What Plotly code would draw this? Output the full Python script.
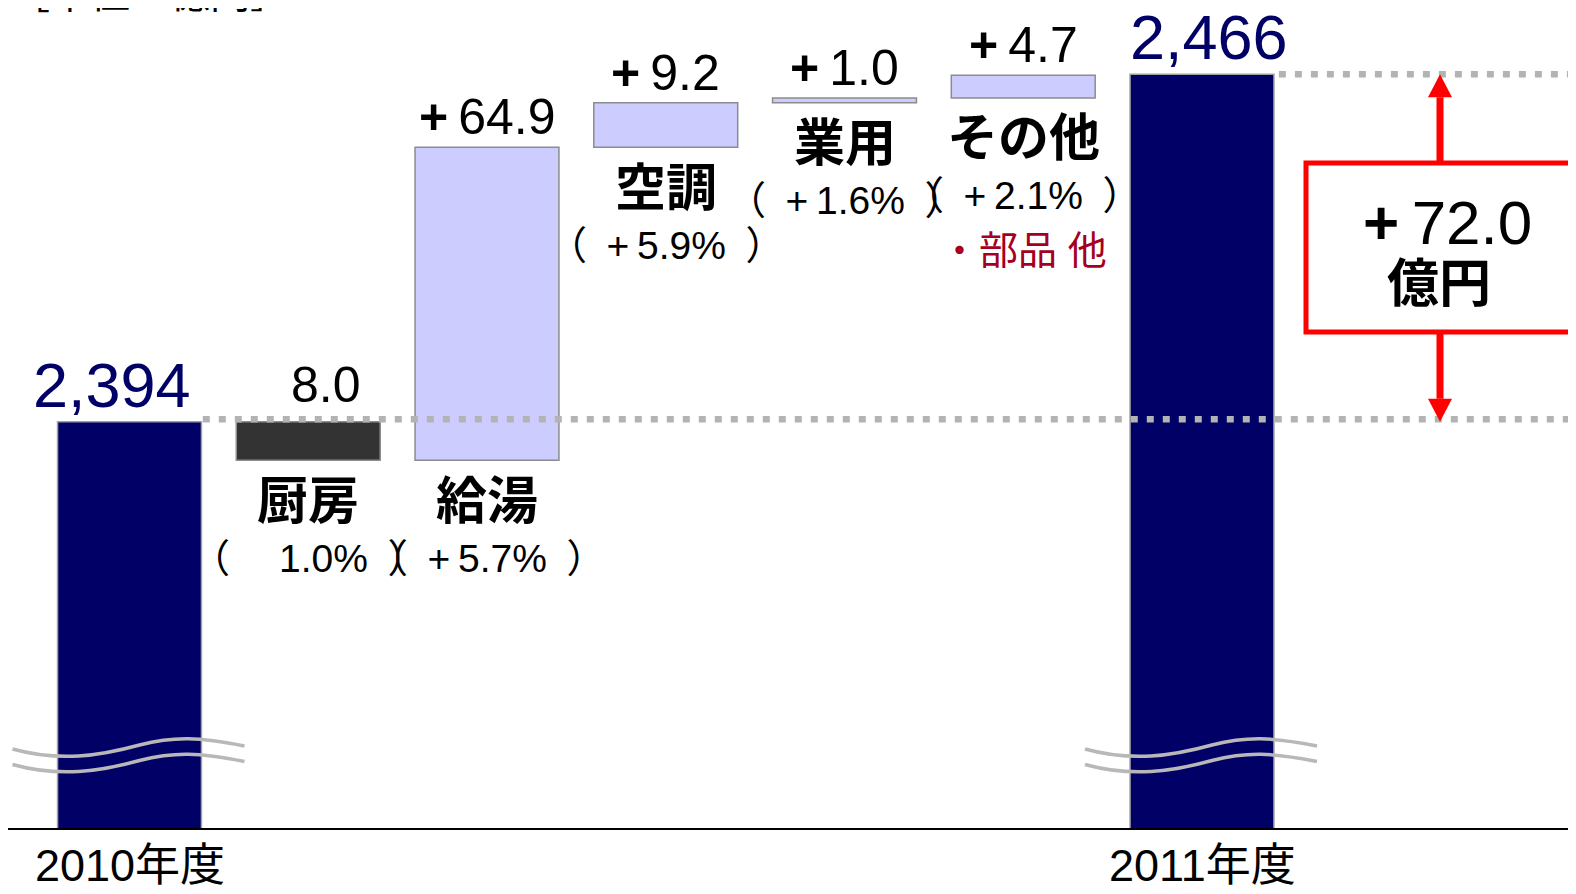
import plotly.graph_objects as go

# ---------------- data ----------------
categories = ["2010年度", "厨房", "給湯", "空調", "業用", "その他", "2011年度"]
measures = ["absolute", "relative", "relative", "relative", "relative", "relative", "absolute"]
values = [2394, -8.0, 64.9, 9.2, 1.0, 4.7, 2466]
value_labels = ["2,394", "8.0", "<b>+</b>\u200964.9", "<b>+</b>\u20099.2",
                "<b>+</b>\u20091.0", "<b>+</b>\u20094.7", "2,466"]
pct_labels = [None,
              "（\u2002\u2007\u20091.0%\u2002）",
              "（\u2002+\u20095.7%\u2002）",
              "（\u2002+\u20095.9%\u2002）",
              "（\u2002+\u20091.6%\u2002）",
              "（\u2002+\u20092.1%\u2002）",
              None]
note_label = "・部品 他"
change_value_label = "<b>+</b>\u200972.0"
change_unit_label = "<b>億円</b>"
unit_label = "［単位：億円］"

# ---------------- styling / layout constants ----------------
OFF = 8                          # page offset of the figure (body margin)
W, H = 1576 - OFF, 894 - OFF
PH = 828 - OFF                   # plot height (axis line at page y 828)
MB = H - PH
PXX = 178.75                     # px per category step
PXY = 347.4 / 72.0               # px per unit of value
XMIN = -(129.5 - OFF) / PXX
XMAX = XMIN + W / PXX
YMAX = values[-1] + (74.3 - OFF) / PXY
YMIN = YMAX - PH / PXY
FONT = "Liberation Sans, Arial, Noto Sans CJK JP, sans-serif"
NAVY = "#000066"
LAV = "#CCCCFF"
DARK = "#333333"
RED = "#FF0000"


def px_x(px):
    """page pixel -> x data"""
    return XMIN + (px - OFF) / PXX


def px_y(py):
    """page pixel -> y data"""
    return YMAX - (py - OFF) / PXY


xs = list(range(len(categories)))

# bar top/bottom derived from the data
tops, bottoms = [], []
cum = 0.0
for m, v in zip(measures, values):
    if m == "absolute":
        cum = v
        tops.append(v)
        bottoms.append(YMIN)
    else:
        start = cum
        cum += v
        tops.append(max(start, cum))
        bottoms.append(min(start, cum))

fig = go.Figure()
fig.add_trace(go.Waterfall(
    x=xs, y=values, measure=measures, width=0.805,
    connector=dict(visible=False),
    increasing=dict(marker=dict(color=LAV, line=dict(color="#8C8C8C", width=1.5))),
    decreasing=dict(marker=dict(color=DARK, line=dict(color="#8C8C8C", width=1.5))),
    totals=dict(marker=dict(color=NAVY, line=dict(color="#A0A0A0", width=1.5))),
    textposition="none", hoverinfo="skip", showlegend=False,
))

ann = []
for i, cat in enumerate(categories):
    if measures[i] == "absolute":
        ann.append(dict(x=xs[i], y=tops[i], text=value_labels[i], showarrow=False,
                        yanchor="middle", yshift=37, xshift=(-18 if i == 0 else 7),
                        font=dict(size=63, color=NAVY, family=FONT)))
        ann.append(dict(x=xs[i], y=0, yref="paper", yanchor="middle", text=cat, showarrow=False,
                        yshift=-37, font=dict(size=45, color="black", family=FONT)))
    else:
        ann.append(dict(x=xs[i], y=tops[i], text=value_labels[i], showarrow=False,
                        yanchor="middle",
                        yshift=(37 if values[i] < 0 else 30), xshift=(18 if values[i] < 0 else 0),
                        font=dict(size=50, color="black", family=FONT)))
        ann.append(dict(x=xs[i], y=bottoms[i], text="<b>" + cat + "</b>", showarrow=False,
                        yanchor="middle", yshift=-41,
                        font=dict(size=51, color="black", family=FONT)))
        ann.append(dict(x=xs[i], y=bottoms[i], text=pct_labels[i], showarrow=False,
                        yanchor="middle", yshift=-98,
                        font=dict(size=39, color="black", family=FONT)))

# note under その他
ann.append(dict(x=xs[5], y=bottoms[5], text=note_label, showarrow=False, yanchor="middle",
                yshift=-153, font=dict(size=39, color="#A50021", family=FONT)))

# box texts
ann.append(dict(x=px_x(1447), y=px_y(222), text=change_value_label, showarrow=False,
                yanchor="middle", font=dict(size=62, color="black", family=FONT)))
ann.append(dict(x=px_x(1439), y=px_y(284), text=change_unit_label, showarrow=False,
                yanchor="middle", font=dict(size=52, color="black", family=FONT)))

# unit text at the top (cut off by the page edge as in the original)
ann.append(dict(x=0, xref="paper", xanchor="left", y=1, yref="paper", yanchor="middle",
                text=unit_label, showarrow=False, yshift=14, xshift=0,
                font=dict(size=40, color="black", family=FONT)))

shapes = []
# dotted reference lines
dot = dict(color="#B3B3B3", width=6.5, dash="7px,9px")
shapes.append(dict(type="line", xref="x", yref="y", x0=xs[0] + 0.41, x1=XMAX,
                   y0=values[0] + 0.5, y1=values[0] + 0.5, line=dot, layer="above"))
shapes.append(dict(type="line", xref="x", yref="y", x0=xs[-1] + 0.43, x1=XMAX,
                   y0=values[-1], y1=values[-1], line=dot, layer="above"))

# red double arrow
ax = px_x(1440)
head_h = 23 / PXY
head_w = 12 / PXX
shapes.append(dict(type="line", xref="x", yref="y", x0=ax, x1=ax,
                   y0=values[0] + head_h, y1=values[-1] - head_h,
                   line=dict(color=RED, width=7)))
shapes.append(dict(type="path", xref="x", yref="y",
                   path=f"M {ax - head_w},{values[-1] - head_h} L {ax},{values[-1]} L {ax + head_w},{values[-1] - head_h} Z",
                   fillcolor=RED, line=dict(width=0)))
shapes.append(dict(type="path", xref="x", yref="y",
                   path=f"M {ax - head_w},{values[0] + head_h} L {ax},{values[0]} L {ax + head_w},{values[0] + head_h} Z",
                   fillcolor=RED, line=dict(width=0)))
# red box
shapes.append(dict(type="rect", xref="x", yref="y", x0=px_x(1306), x1=px_x(1573),
                   y0=px_y(332), y1=px_y(163), fillcolor="white",
                   line=dict(color=RED, width=5)))


# axis-break wave marks on the two total bars
def wave(bar_x, dy):
    # page-pixel offsets relative to the bar centre
    pts = [(-117, 749), (-70, 762), (-30, 756), (10, 745), (45, 736), (70, 737), (115, 746)]
    cx = (bar_x - XMIN) * PXX + OFF
    p = [(px_x(cx + dx), px_y(py + dy)) for dx, py in pts]
    return (f"M {p[0][0]},{p[0][1]} C {p[1][0]},{p[1][1]} {p[2][0]},{p[2][1]} {p[3][0]},{p[3][1]} "
            f"C {p[4][0]},{p[4][1]} {p[5][0]},{p[5][1]} {p[6][0]},{p[6][1]}")


for bx in (xs[0], xs[-1]):
    for dy in (0, 15.5):
        shapes.append(dict(type="path", xref="x", yref="y", path=wave(bx, dy),
                           line=dict(color="#B8B8B8", width=3.5), layer="above"))

fig.update_layout(
    width=W, height=H, autosize=False,
    margin=dict(l=0, r=0, t=0, b=MB),
    paper_bgcolor="white", plot_bgcolor="white",
    xaxis=dict(range=[XMIN, XMAX], showgrid=False, zeroline=False, showticklabels=False,
               showline=True, linecolor="black", linewidth=1.5, ticks=""),
    yaxis=dict(range=[YMIN, YMAX], visible=False, showgrid=False, zeroline=False),
    annotations=ann, shapes=shapes, showlegend=False,
)

fig.write_html("out.html")
